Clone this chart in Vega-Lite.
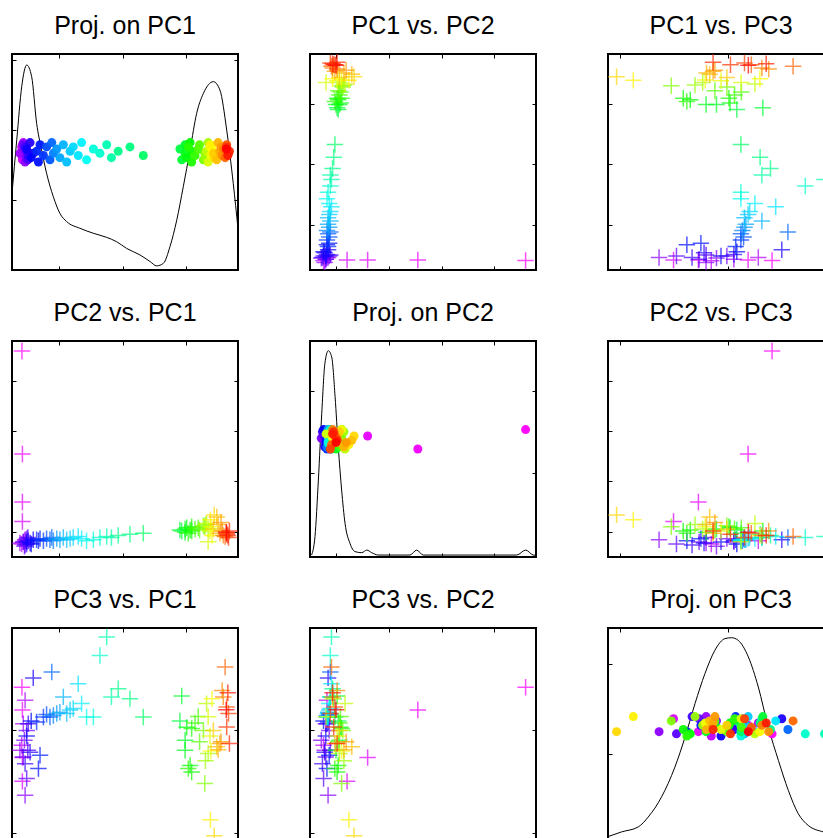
{
"$schema":"https://vega.github.io/schema/vega-lite/v6.json",
"background":"white",
"padding":{"left":10,"top":12,"right":0,"bottom":0},
"datasets":{
"pts":[
{"c":0.00,"pc1":0.044,"pc2":0.954,"pc3":0.726,"j1":0.55,"j2":0.59,"j3":0.51},
{"c":0.01,"pc1":0.046,"pc2":0.477,"pc3":0.620,"j1":0.52,"j2":0.50,"j3":0.55},
{"c":0.02,"pc1":0.046,"pc2":0.255,"pc3":0.400,"j1":0.58,"j2":0.56,"j3":0.52},
{"c":0.03,"pc1":0.046,"pc2":0.164,"pc3":0.290,"j1":0.51,"j2":0.52,"j3":0.58},
{"c":0.05,"pc1":0.043,"pc2":0.060,"pc3":0.457,"j1":0.57,"j2":0.55,"j3":0.50},
{"c":0.06,"pc1":0.058,"pc2":0.075,"pc3":0.665,"j1":0.53,"j2":0.58,"j3":0.56},
{"c":0.07,"pc1":0.050,"pc2":0.070,"pc3":0.557,"j1":0.59,"j2":0.51,"j3":0.53},
{"c":0.08,"pc1":0.035,"pc2":0.065,"pc3":0.434,"j1":0.54,"j2":0.57,"j3":0.59},
{"c":0.09,"pc1":0.058,"pc2":0.080,"pc3":0.226,"j1":0.50,"j2":0.53,"j3":0.52},
{"c":0.10,"pc1":0.055,"pc2":0.050,"pc3":0.480,"j1":0.56,"j2":0.55,"j3":0.57},
{"c":0.11,"pc1":0.065,"pc2":0.085,"pc3":0.526,"j1":0.52,"j2":0.59,"j3":0.54},
{"c":0.12,"pc1":0.050,"pc2":0.070,"pc3":0.403,"j1":0.58,"j2":0.52,"j3":0.58},
{"c":0.13,"pc1":0.065,"pc2":0.060,"pc3":0.303,"j1":0.55,"j2":0.56,"j3":0.51},
{"c":0.14,"pc1":0.070,"pc2":0.090,"pc3":0.434,"j1":0.51,"j2":0.50,"j3":0.55},
{"c":0.15,"pc1":0.058,"pc2":0.055,"pc3":0.372,"j1":0.57,"j2":0.58,"j3":0.59},
{"c":0.16,"pc1":0.072,"pc2":0.075,"pc3":0.557,"j1":0.53,"j2":0.54,"j3":0.53},
{"c":0.17,"pc1":0.080,"pc2":0.065,"pc3":0.425,"j1":0.59,"j2":0.51,"j3":0.56},
{"c":0.18,"pc1":0.094,"pc2":0.080,"pc3":0.769,"j1":0.54,"j2":0.57,"j3":0.58},
{"c":0.19,"pc1":0.065,"pc2":0.070,"pc3":0.500,"j1":0.56,"j2":0.53,"j3":0.50},
{"c":0.20,"pc1":0.085,"pc2":0.060,"pc3":0.570,"j1":0.52,"j2":0.59,"j3":0.57},
{"c":0.21,"pc1":0.117,"pc2":0.075,"pc3":0.349,"j1":0.50,"j2":0.55,"j3":0.52},
{"c":0.22,"pc1":0.124,"pc2":0.085,"pc3":0.411,"j1":0.58,"j2":0.52,"j3":0.55},
{"c":0.23,"pc1":0.109,"pc2":0.080,"pc3":0.565,"j1":0.55,"j2":0.56,"j3":0.59},
{"c":0.24,"pc1":0.139,"pc2":0.075,"pc3":0.588,"j1":0.53,"j2":0.50,"j3":0.54},
{"c":0.26,"pc1":0.153,"pc2":0.085,"pc3":0.600,"j1":0.57,"j2":0.58,"j3":0.51},
{"c":0.27,"pc1":0.168,"pc2":0.080,"pc3":0.588,"j1":0.51,"j2":0.54,"j3":0.56},
{"c":0.28,"pc1":0.176,"pc2":0.090,"pc3":0.796,"j1":0.59,"j2":0.57,"j3":0.53},
{"c":0.30,"pc1":0.183,"pc2":0.075,"pc3":0.595,"j1":0.54,"j2":0.51,"j3":0.58},
{"c":0.32,"pc1":0.198,"pc2":0.085,"pc3":0.604,"j1":0.56,"j2":0.55,"j3":0.52},
{"c":0.33,"pc1":0.212,"pc2":0.080,"pc3":0.610,"j1":0.52,"j2":0.59,"j3":0.55},
{"c":0.34,"pc1":0.227,"pc2":0.090,"pc3":0.681,"j1":0.58,"j2":0.53,"j3":0.57},
{"c":0.35,"pc1":0.242,"pc2":0.080,"pc3":0.604,"j1":0.50,"j2":0.56,"j3":0.51},
{"c":0.36,"pc1":0.257,"pc2":0.085,"pc3":0.620,"j1":0.55,"j2":0.52,"j3":0.59},
{"c":0.37,"pc1":0.271,"pc2":0.090,"pc3":0.627,"j1":0.57,"j2":0.58,"j3":0.54},
{"c":0.38,"pc1":0.293,"pc2":0.095,"pc3":0.742,"j1":0.53,"j2":0.50,"j3":0.57},
{"c":0.39,"pc1":0.308,"pc2":0.085,"pc3":0.650,"j1":0.59,"j2":0.55,"j3":0.52},
{"c":0.41,"pc1":0.330,"pc2":0.075,"pc3":0.588,"j1":0.51,"j2":0.57,"j3":0.55},
{"c":0.43,"pc1":0.360,"pc2":0.080,"pc3":0.588,"j1":0.56,"j2":0.53,"j3":0.50},
{"c":0.44,"pc1":0.389,"pc2":0.090,"pc3":0.873,"j1":0.54,"j2":0.59,"j3":0.51},
{"c":0.46,"pc1":0.419,"pc2":0.095,"pc3":0.958,"j1":0.58,"j2":0.51,"j3":0.51},
{"c":0.47,"pc1":0.440,"pc2":0.090,"pc3":0.681,"j1":0.52,"j2":0.56,"j3":0.58},
{"c":0.49,"pc1":0.470,"pc2":0.100,"pc3":0.719,"j1":0.55,"j2":0.54,"j3":0.53},
{"c":0.50,"pc1":0.522,"pc2":0.105,"pc3":0.673,"j1":0.57,"j2":0.58,"j3":0.56},
{"c":0.52,"pc1":0.581,"pc2":0.110,"pc3":0.588,"j1":0.53,"j2":0.52,"j3":0.52},
{"c":0.55,"pc1":0.743,"pc2":0.125,"pc3":0.570,"j1":0.56,"j2":0.55,"j3":0.57},
{"c":0.56,"pc1":0.751,"pc2":0.120,"pc3":0.685,"j1":0.51,"j2":0.57,"j3":0.59},
{"c":0.57,"pc1":0.766,"pc2":0.130,"pc3":0.480,"j1":0.58,"j2":0.53,"j3":0.54},
{"c":0.58,"pc1":0.766,"pc2":0.115,"pc3":0.434,"j1":0.54,"j2":0.50,"j3":0.52},
{"c":0.59,"pc1":0.773,"pc2":0.135,"pc3":0.540,"j1":0.52,"j2":0.58,"j3":0.56},
{"c":0.60,"pc1":0.788,"pc2":0.125,"pc3":0.364,"j1":0.59,"j2":0.54,"j3":0.51},
{"c":0.61,"pc1":0.795,"pc2":0.120,"pc3":0.333,"j1":0.55,"j2":0.56,"j3":0.53},
{"c":0.62,"pc1":0.795,"pc2":0.140,"pc3":0.535,"j1":0.50,"j2":0.59,"j3":0.55},
{"c":0.63,"pc1":0.780,"pc2":0.110,"pc3":0.349,"j1":0.57,"j2":0.52,"j3":0.50},
{"c":0.64,"pc1":0.810,"pc2":0.130,"pc3":0.560,"j1":0.53,"j2":0.55,"j3":0.58},
{"c":0.66,"pc1":0.824,"pc2":0.135,"pc3":0.590,"j1":0.56,"j2":0.51,"j3":0.54},
{"c":0.67,"pc1":0.830,"pc2":0.125,"pc3":0.473,"j1":0.58,"j2":0.57,"j3":0.57},
{"c":0.69,"pc1":0.847,"pc2":0.145,"pc3":0.526,"j1":0.51,"j2":0.53,"j3":0.52},
{"c":0.70,"pc1":0.853,"pc2":0.140,"pc3":0.280,"j1":0.54,"j2":0.56,"j3":0.57},
{"c":0.72,"pc1":0.856,"pc2":0.150,"pc3":0.385,"j1":0.52,"j2":0.58,"j3":0.59},
{"c":0.73,"pc1":0.868,"pc2":0.130,"pc3":0.419,"j1":0.59,"j2":0.54,"j3":0.55},
{"c":0.75,"pc1":0.861,"pc2":0.155,"pc3":0.650,"j1":0.55,"j2":0.50,"j3":0.51},
{"c":0.77,"pc1":0.868,"pc2":0.071,"pc3":0.589,"j1":0.50,"j2":0.57,"j3":0.58},
{"c":0.78,"pc1":0.876,"pc2":0.120,"pc3":0.500,"j1":0.57,"j2":0.53,"j3":0.53},
{"c":0.79,"pc1":0.880,"pc2":0.140,"pc3":0.430,"j1":0.53,"j2":0.59,"j3":0.56},
{"c":0.80,"pc1":0.885,"pc2":0.100,"pc3":0.672,"j1":0.56,"j2":0.55,"j3":0.52},
{"c":0.81,"pc1":0.878,"pc2":0.172,"pc3":0.112,"j1":0.58,"j2":0.52,"j3":0.59},
{"c":0.83,"pc1":0.895,"pc2":0.195,"pc3":0.038,"j1":0.52,"j2":0.56,"j3":0.52},
{"c":0.84,"pc1":0.891,"pc2":0.130,"pc3":0.526,"j1":0.54,"j2":0.58,"j3":0.55},
{"c":0.85,"pc1":0.906,"pc2":0.185,"pc3":0.450,"j1":0.51,"j2":0.54,"j3":0.57},
{"c":0.86,"pc1":0.912,"pc2":0.150,"pc3":0.436,"j1":0.59,"j2":0.51,"j3":0.53},
{"c":0.87,"pc1":0.920,"pc2":0.110,"pc3":0.465,"j1":0.55,"j2":0.57,"j3":0.56},
{"c":0.88,"pc1":0.925,"pc2":0.160,"pc3":0.473,"j1":0.57,"j2":0.53,"j3":0.59},
{"c":0.89,"pc1":0.930,"pc2":0.120,"pc3":0.711,"j1":0.53,"j2":0.55,"j3":0.52},
{"c":0.90,"pc1":0.935,"pc2":0.100,"pc3":0.681,"j1":0.56,"j2":0.59,"j3":0.55},
{"c":0.92,"pc1":0.943,"pc2":0.095,"pc3":0.819,"j1":0.52,"j2":0.52,"j3":0.57},
{"c":0.93,"pc1":0.950,"pc2":0.110,"pc3":0.634,"j1":0.58,"j2":0.56,"j3":0.54},
{"c":0.95,"pc1":0.958,"pc2":0.090,"pc3":0.604,"j1":0.54,"j2":0.50,"j3":0.58},
{"c":0.96,"pc1":0.950,"pc2":0.105,"pc3":0.542,"j1":0.57,"j2":0.58,"j3":0.51},
{"c":0.97,"pc1":0.962,"pc2":0.120,"pc3":0.465,"j1":0.55,"j2":0.54,"j3":0.53},
{"c":0.98,"pc1":0.955,"pc2":0.100,"pc3":0.700,"j1":0.53,"j2":0.57,"j3":0.56},
{"c":1.00,"pc1":0.948,"pc2":0.115,"pc3":0.621,"j1":0.56,"j2":0.53,"j3":0.52}
],
"d1":[
{"x":0.0,"d":0.355},{"x":0.021,"d":0.602},{"x":0.043,"d":0.849},{"x":0.065,"d":0.949},{"x":0.087,"d":0.895},{"x":0.109,"d":0.679},{"x":0.131,"d":0.556},{"x":0.153,"d":0.448},{"x":0.183,"d":0.339},{"x":0.212,"d":0.262},{"x":0.242,"d":0.224},{"x":0.301,"d":0.193},{"x":0.36,"d":0.17},{"x":0.419,"d":0.151},{"x":0.463,"d":0.131},{"x":0.507,"d":0.10},{"x":0.566,"d":0.07},{"x":0.611,"d":0.039},{"x":0.64,"d":0.019},{"x":0.67,"d":0.031},{"x":0.699,"d":0.108},{"x":0.729,"d":0.231},{"x":0.758,"d":0.386},{"x":0.788,"d":0.556},{"x":0.817,"d":0.725},{"x":0.847,"d":0.818},{"x":0.891,"d":0.872},{"x":0.92,"d":0.833},{"x":0.95,"d":0.648},{"x":0.979,"d":0.401},{"x":1.0,"d":0.19}
],
"d2":[
{"x":0.007,"d":0.009},{"x":0.022,"d":0.094},{"x":0.037,"d":0.356},{"x":0.052,"d":0.665},{"x":0.066,"d":0.897},{"x":0.081,"d":0.955},{"x":0.096,"d":0.926},{"x":0.111,"d":0.742},{"x":0.125,"d":0.511},{"x":0.14,"d":0.31},{"x":0.155,"d":0.156},{"x":0.177,"d":0.063},{"x":0.199,"d":0.025},{"x":0.229,"d":0.02},{"x":0.251,"d":0.032},{"x":0.273,"d":0.02},{"x":0.302,"d":0.009},{"x":0.442,"d":0.009},{"x":0.472,"d":0.032},{"x":0.501,"d":0.009},{"x":0.915,"d":0.009},{"x":0.954,"d":0.032},{"x":0.988,"d":0.009},{"x":1.0,"d":0.008}
],
"d3":[
{"x":0.002,"d":0.035},{"x":0.06,"d":0.056},{"x":0.134,"d":0.079},{"x":0.178,"d":0.125},{"x":0.237,"d":0.218},{"x":0.296,"d":0.356},{"x":0.341,"d":0.495},{"x":0.385,"d":0.65},{"x":0.429,"d":0.789},{"x":0.473,"d":0.897},{"x":0.518,"d":0.951},{"x":0.547,"d":0.955},{"x":0.576,"d":0.943},{"x":0.621,"d":0.866},{"x":0.665,"d":0.727},{"x":0.709,"d":0.542},{"x":0.754,"d":0.387},{"x":0.798,"d":0.248},{"x":0.842,"d":0.14},{"x":0.886,"d":0.086},{"x":0.953,"d":0.056},{"x":1.0,"d":0.045}
]
},
"columns":3,
"bounds":"flush",
"spacing":{"row":71,"column":72},
"concat":[
{"title":"Proj. on PC1","width":226,"height":216,
 "resolve":{"axis":{"x":"independent","y":"independent"}},
 "layer":[
  {"data":{"name":"d1"},"mark":{"type":"line","color":"black","strokeWidth":1,"interpolate":"monotone","clip":true},
   "encoding":{"x":{"field":"x","type":"quantitative","scale":{"domain":[0,1],"nice":false,"zero":false},"axis":{"orient":"bottom","values":[0.208,0.491,0.770],"title":null}},
               "y":{"field":"d","type":"quantitative","scale":{"domain":[0,1],"nice":false,"zero":false},"axis":{"orient":"left","values":[0.324,0.648,0.972],"title":null}}}},
  {"data":{"name":"pts"},"mark":{"type":"circle","size":81,"opacity":0.95,"clip":true},
   "encoding":{"x":{"field":"pc1","type":"quantitative","scale":{"domain":[0,1],"nice":false,"zero":false},"axis":{"orient":"top","values":[0.208,0.491,0.770],"title":null}},
               "y":{"field":"j1","type":"quantitative","scale":{"domain":[0,1],"nice":false,"zero":false},"axis":{"orient":"right","values":[0.324,0.648,0.972],"title":null}},
               "color":{"field":"c","type":"quantitative","scale":{"domain":[0,0.2,0.4,0.6,0.8,1],"range":["#ff00ff","#0000ff","#00ffff","#00ff00","#ffff00","#ff0000"],"interpolate":"rgb"},"legend":null}}}
 ]},
{"title":"PC1 vs. PC2","width":226,"height":216,"data":{"name":"pts"},
 "resolve":{"axis":{"x":"independent","y":"independent"}},
 "layer":[
  {"mark":{"type":"point","shape":"M-1,0L1,0M0,-1L0,1","filled":false,"strokeWidth":1.5,"size":270,"opacity":0.7,"clip":true},
   "encoding":{"x":{"field":"pc2","type":"quantitative","scale":{"domain":[0,1],"nice":false,"zero":false},"axis":{"orient":"bottom","values":[0.117,0.350,0.584,0.815],"title":null}},
               "y":{"field":"pc1","type":"quantitative","scale":{"domain":[0,1],"nice":false,"zero":false},"axis":{"orient":"left","values":[0.208,0.491,0.770],"title":null}},
               "color":{"field":"c","type":"quantitative","scale":{"domain":[0,0.2,0.4,0.6,0.8,1],"range":["#ff00ff","#0000ff","#00ffff","#00ff00","#ffff00","#ff0000"],"interpolate":"rgb"},"legend":null}}},
  {"mark":{"type":"point","opacity":0,"clip":true},
   "encoding":{"x":{"field":"pc2","type":"quantitative","scale":{"domain":[0,1],"nice":false,"zero":false},"axis":{"orient":"top","values":[0.117,0.350,0.584,0.815],"title":null}},
               "y":{"field":"pc1","type":"quantitative","scale":{"domain":[0,1],"nice":false,"zero":false},"axis":{"orient":"right","values":[0.208,0.491,0.770],"title":null}}}}
 ]},
{"title":"PC1 vs. PC3","width":226,"height":216,"data":{"name":"pts"},
 "resolve":{"axis":{"x":"independent","y":"independent"}},
 "layer":[
  {"mark":{"type":"point","shape":"M-1,0L1,0M0,-1L0,1","filled":false,"strokeWidth":1.5,"size":270,"opacity":0.7,"clip":true},
   "encoding":{"x":{"field":"pc3","type":"quantitative","scale":{"domain":[0,1],"nice":false,"zero":false},"axis":{"orient":"bottom","values":[0.053,0.530],"title":null}},
               "y":{"field":"pc1","type":"quantitative","scale":{"domain":[0,1],"nice":false,"zero":false},"axis":{"orient":"left","values":[0.208,0.491,0.770],"title":null}},
               "color":{"field":"c","type":"quantitative","scale":{"domain":[0,0.2,0.4,0.6,0.8,1],"range":["#ff00ff","#0000ff","#00ffff","#00ff00","#ffff00","#ff0000"],"interpolate":"rgb"},"legend":null}}},
  {"mark":{"type":"point","opacity":0,"clip":true},
   "encoding":{"x":{"field":"pc3","type":"quantitative","scale":{"domain":[0,1],"nice":false,"zero":false},"axis":{"orient":"top","values":[0.053,0.530],"title":null}},
               "y":{"field":"pc1","type":"quantitative","scale":{"domain":[0,1],"nice":false,"zero":false},"axis":{"orient":"right","values":[0.208,0.491,0.770],"title":null}}}}
 ]},
{"title":"PC2 vs. PC1","width":226,"height":216,"data":{"name":"pts"},
 "resolve":{"axis":{"x":"independent","y":"independent"}},
 "layer":[
  {"mark":{"type":"point","shape":"M-1,0L1,0M0,-1L0,1","filled":false,"strokeWidth":1.5,"size":270,"opacity":0.7,"clip":true},
   "encoding":{"x":{"field":"pc1","type":"quantitative","scale":{"domain":[0,1],"nice":false,"zero":false},"axis":{"orient":"bottom","values":[0.208,0.491,0.770],"title":null}},
               "y":{"field":"pc2","type":"quantitative","scale":{"domain":[0,1],"nice":false,"zero":false},"axis":{"orient":"left","values":[0.117,0.350,0.584,0.815],"title":null}},
               "color":{"field":"c","type":"quantitative","scale":{"domain":[0,0.2,0.4,0.6,0.8,1],"range":["#ff00ff","#0000ff","#00ffff","#00ff00","#ffff00","#ff0000"],"interpolate":"rgb"},"legend":null}}},
  {"mark":{"type":"point","opacity":0,"clip":true},
   "encoding":{"x":{"field":"pc1","type":"quantitative","scale":{"domain":[0,1],"nice":false,"zero":false},"axis":{"orient":"top","values":[0.208,0.491,0.770],"title":null}},
               "y":{"field":"pc2","type":"quantitative","scale":{"domain":[0,1],"nice":false,"zero":false},"axis":{"orient":"right","values":[0.117,0.350,0.584,0.815],"title":null}}}}
 ]},
{"title":"Proj. on PC2","width":226,"height":216,
 "resolve":{"axis":{"x":"independent","y":"independent"}},
 "layer":[
  {"data":{"name":"d2"},"mark":{"type":"line","color":"black","strokeWidth":1,"interpolate":"monotone","clip":true},
   "encoding":{"x":{"field":"x","type":"quantitative","scale":{"domain":[0,1],"nice":false,"zero":false},"axis":{"orient":"bottom","values":[0.117,0.350,0.584,0.815],"title":null}},
               "y":{"field":"d","type":"quantitative","scale":{"domain":[0,1],"nice":false,"zero":false},"axis":{"orient":"left","values":[0.389,0.769],"title":null}}}},
  {"data":{"name":"pts"},"mark":{"type":"circle","size":81,"opacity":0.95,"clip":true},
   "encoding":{"x":{"field":"pc2","type":"quantitative","scale":{"domain":[0,1],"nice":false,"zero":false},"axis":{"orient":"top","values":[0.117,0.350,0.584,0.815],"title":null}},
               "y":{"field":"j2","type":"quantitative","scale":{"domain":[0,1],"nice":false,"zero":false},"axis":{"orient":"right","values":[0.389,0.769],"title":null}},
               "color":{"field":"c","type":"quantitative","scale":{"domain":[0,0.2,0.4,0.6,0.8,1],"range":["#ff00ff","#0000ff","#00ffff","#00ff00","#ffff00","#ff0000"],"interpolate":"rgb"},"legend":null}}}
 ]},
{"title":"PC2 vs. PC3","width":226,"height":216,"data":{"name":"pts"},
 "resolve":{"axis":{"x":"independent","y":"independent"}},
 "layer":[
  {"mark":{"type":"point","shape":"M-1,0L1,0M0,-1L0,1","filled":false,"strokeWidth":1.5,"size":270,"opacity":0.7,"clip":true},
   "encoding":{"x":{"field":"pc3","type":"quantitative","scale":{"domain":[0,1],"nice":false,"zero":false},"axis":{"orient":"bottom","values":[0.053,0.530],"title":null}},
               "y":{"field":"pc2","type":"quantitative","scale":{"domain":[0,1],"nice":false,"zero":false},"axis":{"orient":"left","values":[0.117,0.350,0.584,0.815],"title":null}},
               "color":{"field":"c","type":"quantitative","scale":{"domain":[0,0.2,0.4,0.6,0.8,1],"range":["#ff00ff","#0000ff","#00ffff","#00ff00","#ffff00","#ff0000"],"interpolate":"rgb"},"legend":null}}},
  {"mark":{"type":"point","opacity":0,"clip":true},
   "encoding":{"x":{"field":"pc3","type":"quantitative","scale":{"domain":[0,1],"nice":false,"zero":false},"axis":{"orient":"top","values":[0.053,0.530],"title":null}},
               "y":{"field":"pc2","type":"quantitative","scale":{"domain":[0,1],"nice":false,"zero":false},"axis":{"orient":"right","values":[0.117,0.350,0.584,0.815],"title":null}}}}
 ]},
{"title":"PC3 vs. PC1","width":226,"height":216,"data":{"name":"pts"},
 "resolve":{"axis":{"x":"independent","y":"independent"}},
 "layer":[
  {"mark":{"type":"point","shape":"M-1,0L1,0M0,-1L0,1","filled":false,"strokeWidth":1.5,"size":270,"opacity":0.7,"clip":true},
   "encoding":{"x":{"field":"pc1","type":"quantitative","scale":{"domain":[0,1],"nice":false,"zero":false},"axis":{"orient":"bottom","values":[0.208,0.491,0.770],"title":null}},
               "y":{"field":"pc3","type":"quantitative","scale":{"domain":[0,1],"nice":false,"zero":false},"axis":{"orient":"left","values":[0.053,0.530],"title":null}},
               "color":{"field":"c","type":"quantitative","scale":{"domain":[0,0.2,0.4,0.6,0.8,1],"range":["#ff00ff","#0000ff","#00ffff","#00ff00","#ffff00","#ff0000"],"interpolate":"rgb"},"legend":null}}},
  {"mark":{"type":"point","opacity":0,"clip":true},
   "encoding":{"x":{"field":"pc1","type":"quantitative","scale":{"domain":[0,1],"nice":false,"zero":false},"axis":{"orient":"top","values":[0.208,0.491,0.770],"title":null}},
               "y":{"field":"pc3","type":"quantitative","scale":{"domain":[0,1],"nice":false,"zero":false},"axis":{"orient":"right","values":[0.053,0.530],"title":null}}}}
 ]},
{"title":"PC3 vs. PC2","width":226,"height":216,"data":{"name":"pts"},
 "resolve":{"axis":{"x":"independent","y":"independent"}},
 "layer":[
  {"mark":{"type":"point","shape":"M-1,0L1,0M0,-1L0,1","filled":false,"strokeWidth":1.5,"size":270,"opacity":0.7,"clip":true},
   "encoding":{"x":{"field":"pc2","type":"quantitative","scale":{"domain":[0,1],"nice":false,"zero":false},"axis":{"orient":"bottom","values":[0.117,0.350,0.584,0.815],"title":null}},
               "y":{"field":"pc3","type":"quantitative","scale":{"domain":[0,1],"nice":false,"zero":false},"axis":{"orient":"left","values":[0.053,0.530],"title":null}},
               "color":{"field":"c","type":"quantitative","scale":{"domain":[0,0.2,0.4,0.6,0.8,1],"range":["#ff00ff","#0000ff","#00ffff","#00ff00","#ffff00","#ff0000"],"interpolate":"rgb"},"legend":null}}},
  {"mark":{"type":"point","opacity":0,"clip":true},
   "encoding":{"x":{"field":"pc2","type":"quantitative","scale":{"domain":[0,1],"nice":false,"zero":false},"axis":{"orient":"top","values":[0.117,0.350,0.584,0.815],"title":null}},
               "y":{"field":"pc3","type":"quantitative","scale":{"domain":[0,1],"nice":false,"zero":false},"axis":{"orient":"right","values":[0.053,0.530],"title":null}}}}
 ]},
{"title":"Proj. on PC3","width":226,"height":216,
 "resolve":{"axis":{"x":"independent","y":"independent"}},
 "layer":[
  {"data":{"name":"d3"},"mark":{"type":"line","color":"black","strokeWidth":1,"interpolate":"monotone","clip":true},
   "encoding":{"x":{"field":"x","type":"quantitative","scale":{"domain":[0,1],"nice":false,"zero":false},"axis":{"orient":"bottom","values":[0.053,0.530],"title":null}},
               "y":{"field":"d","type":"quantitative","scale":{"domain":[0,1],"nice":false,"zero":false},"axis":{"orient":"left","values":[0.417,0.833],"title":null}}}},
  {"data":{"name":"pts"},"mark":{"type":"circle","size":81,"opacity":0.95,"clip":true},
   "encoding":{"x":{"field":"pc3","type":"quantitative","scale":{"domain":[0,1],"nice":false,"zero":false},"axis":{"orient":"top","values":[0.053,0.530],"title":null}},
               "y":{"field":"j3","type":"quantitative","scale":{"domain":[0,1],"nice":false,"zero":false},"axis":{"orient":"right","values":[0.417,0.833],"title":null}},
               "color":{"field":"c","type":"quantitative","scale":{"domain":[0,0.2,0.4,0.6,0.8,1],"range":["#ff00ff","#0000ff","#00ffff","#00ff00","#ffff00","#ff0000"],"interpolate":"rgb"},"legend":null}}}
 ]}
],
"config":{
 "font":"Liberation Sans",
 "view":{"stroke":"black","strokeWidth":2},
 "axis":{"labels":false,"domain":false,"grid":false,"ticks":true,"tickSize":-4,"tickColor":"#000","tickWidth":1},
 "title":{"font":"Liberation Sans","fontSize":25,"fontWeight":"normal","color":"#000","baseline":"alphabetic","offset":15}
}
}
